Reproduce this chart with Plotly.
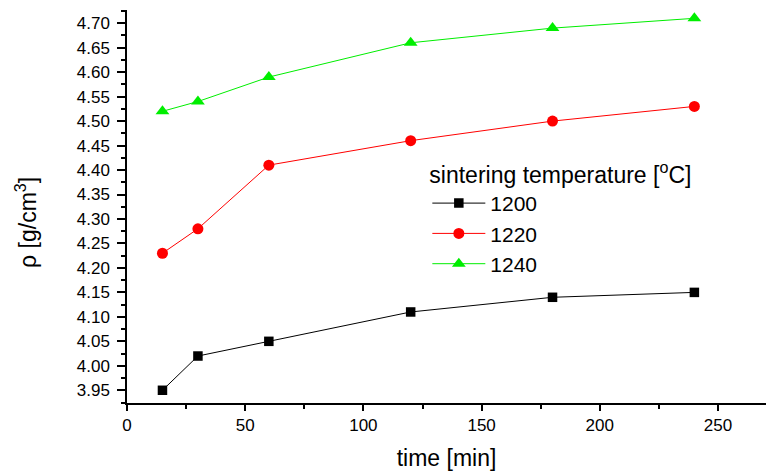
import plotly.graph_objects as go

time_min = [15, 30, 60, 120, 180, 240]
rho_1200 = [3.95, 4.02, 4.05, 4.11, 4.14, 4.15]
rho_1220 = [4.23, 4.28, 4.41, 4.46, 4.50, 4.53]
rho_1240 = [4.52, 4.54, 4.59, 4.66, 4.69, 4.71]
series_names = ["1200", "1220", "1240"]

FONT = "Liberation Sans, Arial, sans-serif"

fig = go.Figure()
styles = [
    (rho_1200, "black", "square", 9.5),
    (rho_1220, "red", "circle", 11),
    (rho_1240, "#00ee00", "triangle-up", 12),
]
for name, (vals, col, sym, sz) in zip(series_names, styles):
    fig.add_trace(go.Scatter(
        x=time_min, y=vals, name=name, mode="lines+markers",
        line=dict(color=col, width=1),
        marker=dict(color=col, symbol=sym, size=sz),
    ))

fig.update_layout(
    width=766, height=473,
    margin=dict(l=127, r=0, t=10, b=70),
    paper_bgcolor="white", plot_bgcolor="white",
    font=dict(family=FONT, color="black"),
    showlegend=True,
    legend=dict(
        title=dict(text="sintering temperature [<sup>o</sup>C]", font=dict(size=23, family=FONT)),
        font=dict(size=21, family=FONT),
        x=0.47, y=0.636, xanchor="left", yanchor="top",
        bgcolor="rgba(0,0,0,0)", itemwidth=53,
    ),
    annotations=[dict(
        text="ρ [g/cm<sup>3</sup>]", textangle=-90,
        xref="paper", yref="paper", x=-0.157, y=0.46,
        xanchor="center", yanchor="middle", showarrow=False,
        font=dict(size=23, family=FONT),
    )],
)
fig.update_xaxes(
    range=[0, 270.3], showgrid=False, zeroline=False, automargin=False,
    showline=True, linecolor="black", linewidth=1.5,
    ticks="outside", ticklen=6, tickwidth=1.5, tickcolor="black",
    dtick=50, tick0=0,
    tickfont=dict(size=17, family=FONT),
    minor=dict(ticks="outside", ticklen=4, dtick=25, tick0=0, tickcolor="black", tickwidth=1.5),
    title=dict(text="time [min]", font=dict(size=23, family=FONT), standoff=16),
)
fig.update_yaxes(
    range=[3.924, 4.727], showgrid=False, zeroline=False, automargin=False,
    showline=True, linecolor="black", linewidth=1.5,
    ticks="outside", ticklen=8, tickwidth=1.5, tickcolor="black",
    dtick=0.05, tick0=3.95, tickformat=".2f", ticklabelstandoff=4,
    tickfont=dict(size=17, family=FONT),
    minor=dict(ticks="outside", ticklen=4, dtick=0.025, tick0=3.925, tickcolor="black", tickwidth=1.5),
)

fig.write_html("out.html", config={"displayModeBar": False},
               post_script="document.body.style.margin='0';")
